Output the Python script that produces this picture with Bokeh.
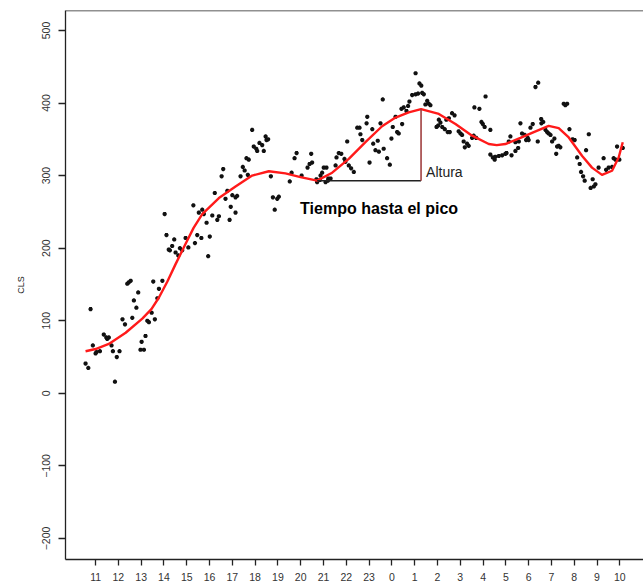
from bokeh.plotting import figure
from bokeh.models import Span, Range1d, FixedTicker, Label
from bokeh.embed import file_html
from bokeh.resources import INLINE

# Hours elapsed since 11:00 and CLS readings
hours = [3.03, 3.11, 3.45, 3.36, 3.21, 3.26, 3.51, 3.70, 3.80, 3.95, 4.07, 3.63, 1.39, 1.46, 1.54, 2.53, 2.93, 2.78,
         1.87, 1.68, 2.71, 1.79, -0.22, 2.46, 1.18, 1.29, 1.61, 2.27, 2.34, 2.60, 2.19, 2.02, 1.97, 2.12, 0.36, 0.47,
         0.58, 0.51, 0.70, -0.12, 0.00, 0.04, 0.19, 0.76, 1.05, 0.93, -0.44, -0.32, 0.85,
         6.87, 7.46, 7.57, 7.50, 6.94, 7.05, 7.09, 7.19, 7.31, 7.38, 6.62, 6.72, 8.82, 8.73, 6.46, 6.54, 6.36, 6.68,
         5.60, 5.53, 7.69, 8.60, 8.52, 5.78, 6.00, 6.14, 6.21, 5.70, 5.23, 7.78, 7.97, 8.04, 7.86, 5.93, 6.14, 4.29,
         4.53, 4.68, 4.75, 5.12, 5.41, 5.34, 5.88, 4.87, 4.46, 4.64, 5.01, 4.36, 4.94,
         12.60, 13.42, 13.52, 11.92, 11.89, 13.16, 11.48, 11.58, 12.14, 13.04, 13.23, 13.30, 13.45, 11.62, 11.70,
         12.50, 12.38, 12.98, 11.04, 12.18, 12.28, 12.43, 12.64, 12.79, 12.91, 12.02, 10.67, 10.78, 10.57, 10.92,
         10.96, 11.11, 11.21, 11.33, 10.53, 9.46, 9.50, 9.39, 9.30, 10.01, 10.13, 9.94, 9.04, 9.87, 9.69, 9.84,
         10.21, 10.31, 9.72, 10.19, 10.09,
         14.04, 14.21, 14.29, 13.89, 14.04, 14.15, 14.33, 14.40, 13.77, 13.71, 13.64, 14.55, 14.62, 14.47, 14.69,
         17.11, 16.62, 16.84, 15.64, 15.75, 15.50, 15.39, 15.06, 15.13, 15.03, 14.96, 15.21, 15.32, 15.45, 15.54,
         16.93, 16.99, 17.07, 17.32, 15.93, 16.01, 16.08, 16.59, 16.70, 16.52, 16.15, 16.30, 16.20, 16.37, 18.20,
         18.13, 18.42, 18.57, 17.32, 17.43, 17.54, 17.51, 17.69, 17.84, 17.98, 18.03, 18.25, 18.42, 18.54,
         19.42, 19.30, 20.54, 20.61, 20.69, 18.64, 19.18, 19.08, 19.55, 19.64, 19.56, 18.71, 18.83, 18.96, 18.89,
         19.00, 19.74, 19.81, 19.88, 19.96, 20.13, 20.03, 19.40, 20.32, 20.39, 20.25, 20.79, 20.93, 21.02, 21.64,
         20.21, 21.52, 21.13, 21.24, 21.30, 21.39, 21.46, 22.29, 22.07, 21.81, 21.93, 21.86, 21.72, 22.40, 22.51,
         22.66, 22.73, 22.81, 22.98, 22.88, 23.13]
cls = [247, 218, 212, 203, 198, 197, 194, 200, 197, 214, 201, 190, 151, 153, 155, 154, 155, 144,
       139, 128, 131, 118, 116, 111, 102, 95, 104, 100, 98, 102, 79, 71, 60, 60, 81, 77,
       77, 75, 66, 66, 55, 57, 58, 58, 58, 50, 41, 35, 16,
       363, 354, 350, 349, 340, 337, 334, 345, 342, 334, 324, 322, 331, 324, 312, 307, 299, 301,
       309, 299, 299, 304, 292, 279, 273, 270, 272, 268, 276, 270, 268, 271, 253, 257, 249, 259,
       249, 253, 247, 245, 244, 239, 239, 235, 218, 214, 216, 207, 189,
       405, 392, 394, 381, 372, 381, 366, 366, 364, 367, 360, 358, 371, 357, 349,
       372, 348, 351, 347, 344, 335, 333, 337, 324, 315, 318, 331, 330, 325, 323,
       319, 314, 310, 305, 314, 330, 318, 316, 311, 311, 311, 304, 300, 300, 295, 294,
       296, 296, 291, 293, 291,
       441, 427, 424, 411, 412, 413, 414, 412, 402, 396, 389, 403, 399, 398, 397,
       409, 394, 392, 386, 383, 379, 377, 377, 373, 369, 367, 367, 364, 360, 360,
       374, 371, 367, 363, 361, 358, 356, 355, 352, 352, 347, 344, 339, 341, 354,
       347, 346, 347, 329, 325, 326, 322, 327, 328, 330, 331, 328, 334, 338,
       428, 422, 399, 397, 399, 372, 371, 366, 378, 374, 372, 358, 356, 352, 349,
       349, 363, 360, 358, 356, 351, 347, 347, 341, 339, 340, 364, 350, 349, 357,
       330, 335, 325, 316, 305, 299, 293, 324, 311, 295, 288, 285, 283, 308, 311,
       312, 324, 322, 322, 340, 338]

# Smoothed fit (red curve)
fit_hours = [-0.44, 0.0, 0.58, 1.32, 2.05, 2.45, 2.78, 3.15, 3.51, 3.95, 4.3, 4.68, 5.41, 6.14, 6.87, 7.6, 8.33,
             8.99, 9.72, 10.38, 11.11, 11.84, 12.57, 13.16, 13.74, 14.28, 15.06, 15.79, 16.52, 17.25, 17.6, 17.98,
             18.64, 19.15, 19.88, 20.32, 20.76, 21.35, 21.78, 22.22, 22.66, 22.95, 23.13]
fit_cls = [58, 61, 68, 83.5, 103, 116, 132, 154, 178, 206, 228, 247, 269, 285, 300, 306, 303,
           298, 293, 304, 323, 346, 368, 380, 387, 391.6, 385, 371, 355, 343.5, 342, 343.5,
           352, 359, 368.5, 365.5, 352.6, 327, 311, 301, 306.7, 325, 346]

tick_hours = list(range(24))
tick_labels = ["11", "12", "13", "14", "15", "16", "17", "18", "19", "20", "21", "22", "23",
               "0", "1", "2", "3", "4", "5", "6", "7", "8", "9", "10"]
y_ticks = [-200, -100, 0, 100, 200, 300, 400, 500]

FONT = "Liberation Sans"

p = figure(width=643, height=586, output_backend="svg", toolbar_location=None,
           x_range=Range1d(-1.32, 24.04), y_range=Range1d(-229, 527.5),
           min_border_left=65, min_border_right=0, min_border_top=10, min_border_bottom=27)
p.outline_line_color = None
p.xgrid.visible = False
p.ygrid.visible = False
p.background_fill_color = "white"
p.border_fill_color = "white"

# top border of the box
p.add_layout(Span(location=527.5, dimension="width", line_color="#222222", line_width=1.3))

# axes
p.xaxis.ticker = FixedTicker(ticks=tick_hours)
p.xaxis.major_label_overrides = {h: lab for h, lab in zip(tick_hours, tick_labels)}
p.yaxis.ticker = FixedTicker(ticks=y_ticks)
for ax in (p.xaxis, p.yaxis):
    ax.axis_line_color = "#222222"
    ax.axis_line_width = 1.3
    ax.major_tick_line_color = "#222222"
    ax.major_tick_line_width = 1.3
    ax.minor_tick_line_color = None
    ax.major_tick_in = 0
    ax.major_label_text_font = FONT
    ax.major_label_text_font_size = "10.5px"
    ax.major_label_text_color = "#333333"
p.xaxis.major_tick_out = 6
p.xaxis.major_label_standoff = 7
p.yaxis.major_tick_out = 7
p.yaxis.major_label_standoff = 8
p.yaxis.major_label_orientation = "vertical"
p.yaxis.axis_label = "CLS"
p.yaxis.axis_label_text_font = FONT
p.yaxis.axis_label_text_font_style = "normal"
p.yaxis.axis_label_text_font_size = "9px"
p.yaxis.axis_label_text_color = "#222222"
p.yaxis.axis_label_standoff = 14

# scatter
p.scatter(hours, cls, marker="asterisk", size=4.2, line_color="#111111", line_width=1.5)

# fit
p.line(fit_hours, fit_cls, line_color="#ff1a1a", line_width=2.4, line_join="round")

# annotations derived from the fit: peak and preceding trough
peak_i = max(range(len(fit_cls)), key=lambda i: fit_cls[i])
peak_t, peak_v = fit_hours[peak_i], fit_cls[peak_i]
trough_candidates = [i for i in range(peak_i) if fit_hours[i] > 7.0]
trough_i = min(trough_candidates, key=lambda i: fit_cls[i])
trough_t, level = fit_hours[trough_i], fit_cls[trough_i]

p.line([trough_t, peak_t], [level, level], line_color="#222222", line_width=1.4)
p.line([peak_t, peak_t], [level, peak_v], line_color="#a04040", line_width=1.6)

p.add_layout(Label(x=peak_t, y=level, x_offset=5, y_offset=9, text="Altura",
                   text_font=FONT, text_font_size="14px", text_color="#222222",
                   text_align="left", text_baseline="alphabetic"))
p.add_layout(Label(x=(trough_t + peak_t) / 2, y=level, x_offset=10, y_offset=-28,
                   text="Tiempo hasta el pico", text_font=FONT, text_font_size="16px",
                   text_font_style="bold", text_color="#000000",
                   text_align="center", text_baseline="alphabetic"))

open("out.html", "w").write(file_html(p, INLINE))
